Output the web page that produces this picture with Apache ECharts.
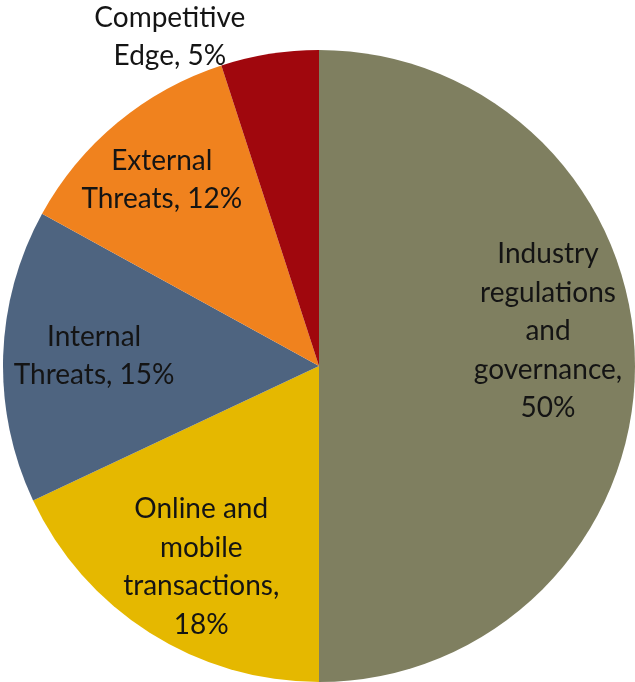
<!DOCTYPE html>
<html>
<head>
<meta charset="utf-8">
<script src="https://cdn.jsdelivr.net/npm/echarts@6/dist/echarts.min.js"></script>
<style>
  html, body { margin: 0; padding: 0; background: #fff; }
  #chart { width: 635px; height: 682px; }
</style>
</head>
<body>
<div id="chart"></div>
<script>
// slices, clockwise from 12 o'clock
const labels = ["Industry\nregulations\nand\ngovernance,\n", "Online and\nmobile\ntransactions,\n", "Internal\nThreats, ", "External\nThreats, ", "Competitive\nEdge, "]
const values = [50, 18, 15, 12, 5]
const colors = ["#7F7F60", "#E5B800", "#4E6480", "#F0821E", "#A0070D"]

const FONT = "Lato, 'Open Sans', sans-serif"
const CENTER = [319, 366]
const R = 316
// nudges for labels, per slice
const labelShift = [[-2, -35], [6, 6], [6, -3], [-10, -8], [-113, -101]]

const chart = echarts.init(document.getElementById("chart"))

const sliceData = values.map((v, i) => ({ value: v, name: labels[i], itemStyle: { color: colors[i] } }))
const labelData = values.map((v, i) => ({ value: v, name: labels[i] }))

chart.setOption({
    animation: false,
    series: [
        {
            type: "pie",
            center: CENTER,
            radius: [0, R],
            startAngle: 90,
            clockwise: true,
            silent: true,
            label: { show: false },
            labelLine: { show: false },
            itemStyle: { borderWidth: 0 },
            data: sliceData
        },
        {
            // transparent copy, only there to put labels at ~0.72 R
            type: "pie",
            center: CENTER,
            radius: [140, R],
            startAngle: 90,
            clockwise: true,
            silent: true,
            itemStyle: { color: "rgba(0,0,0,0)" },
            labelLine: { show: false },
            label: {
                show: true,
                position: "inside",
                formatter: p => p.name + p.value + "%",
                color: "#141414",
                fontFamily: FONT,
                fontSize: 28,
                lineHeight: 38.5,
                align: "center"
            },
            labelLayout: p => ({ dx: labelShift[p.dataIndex][0], dy: labelShift[p.dataIndex][1] }),
            data: labelData
        }
    ]
})
</script>
</body>
</html>
